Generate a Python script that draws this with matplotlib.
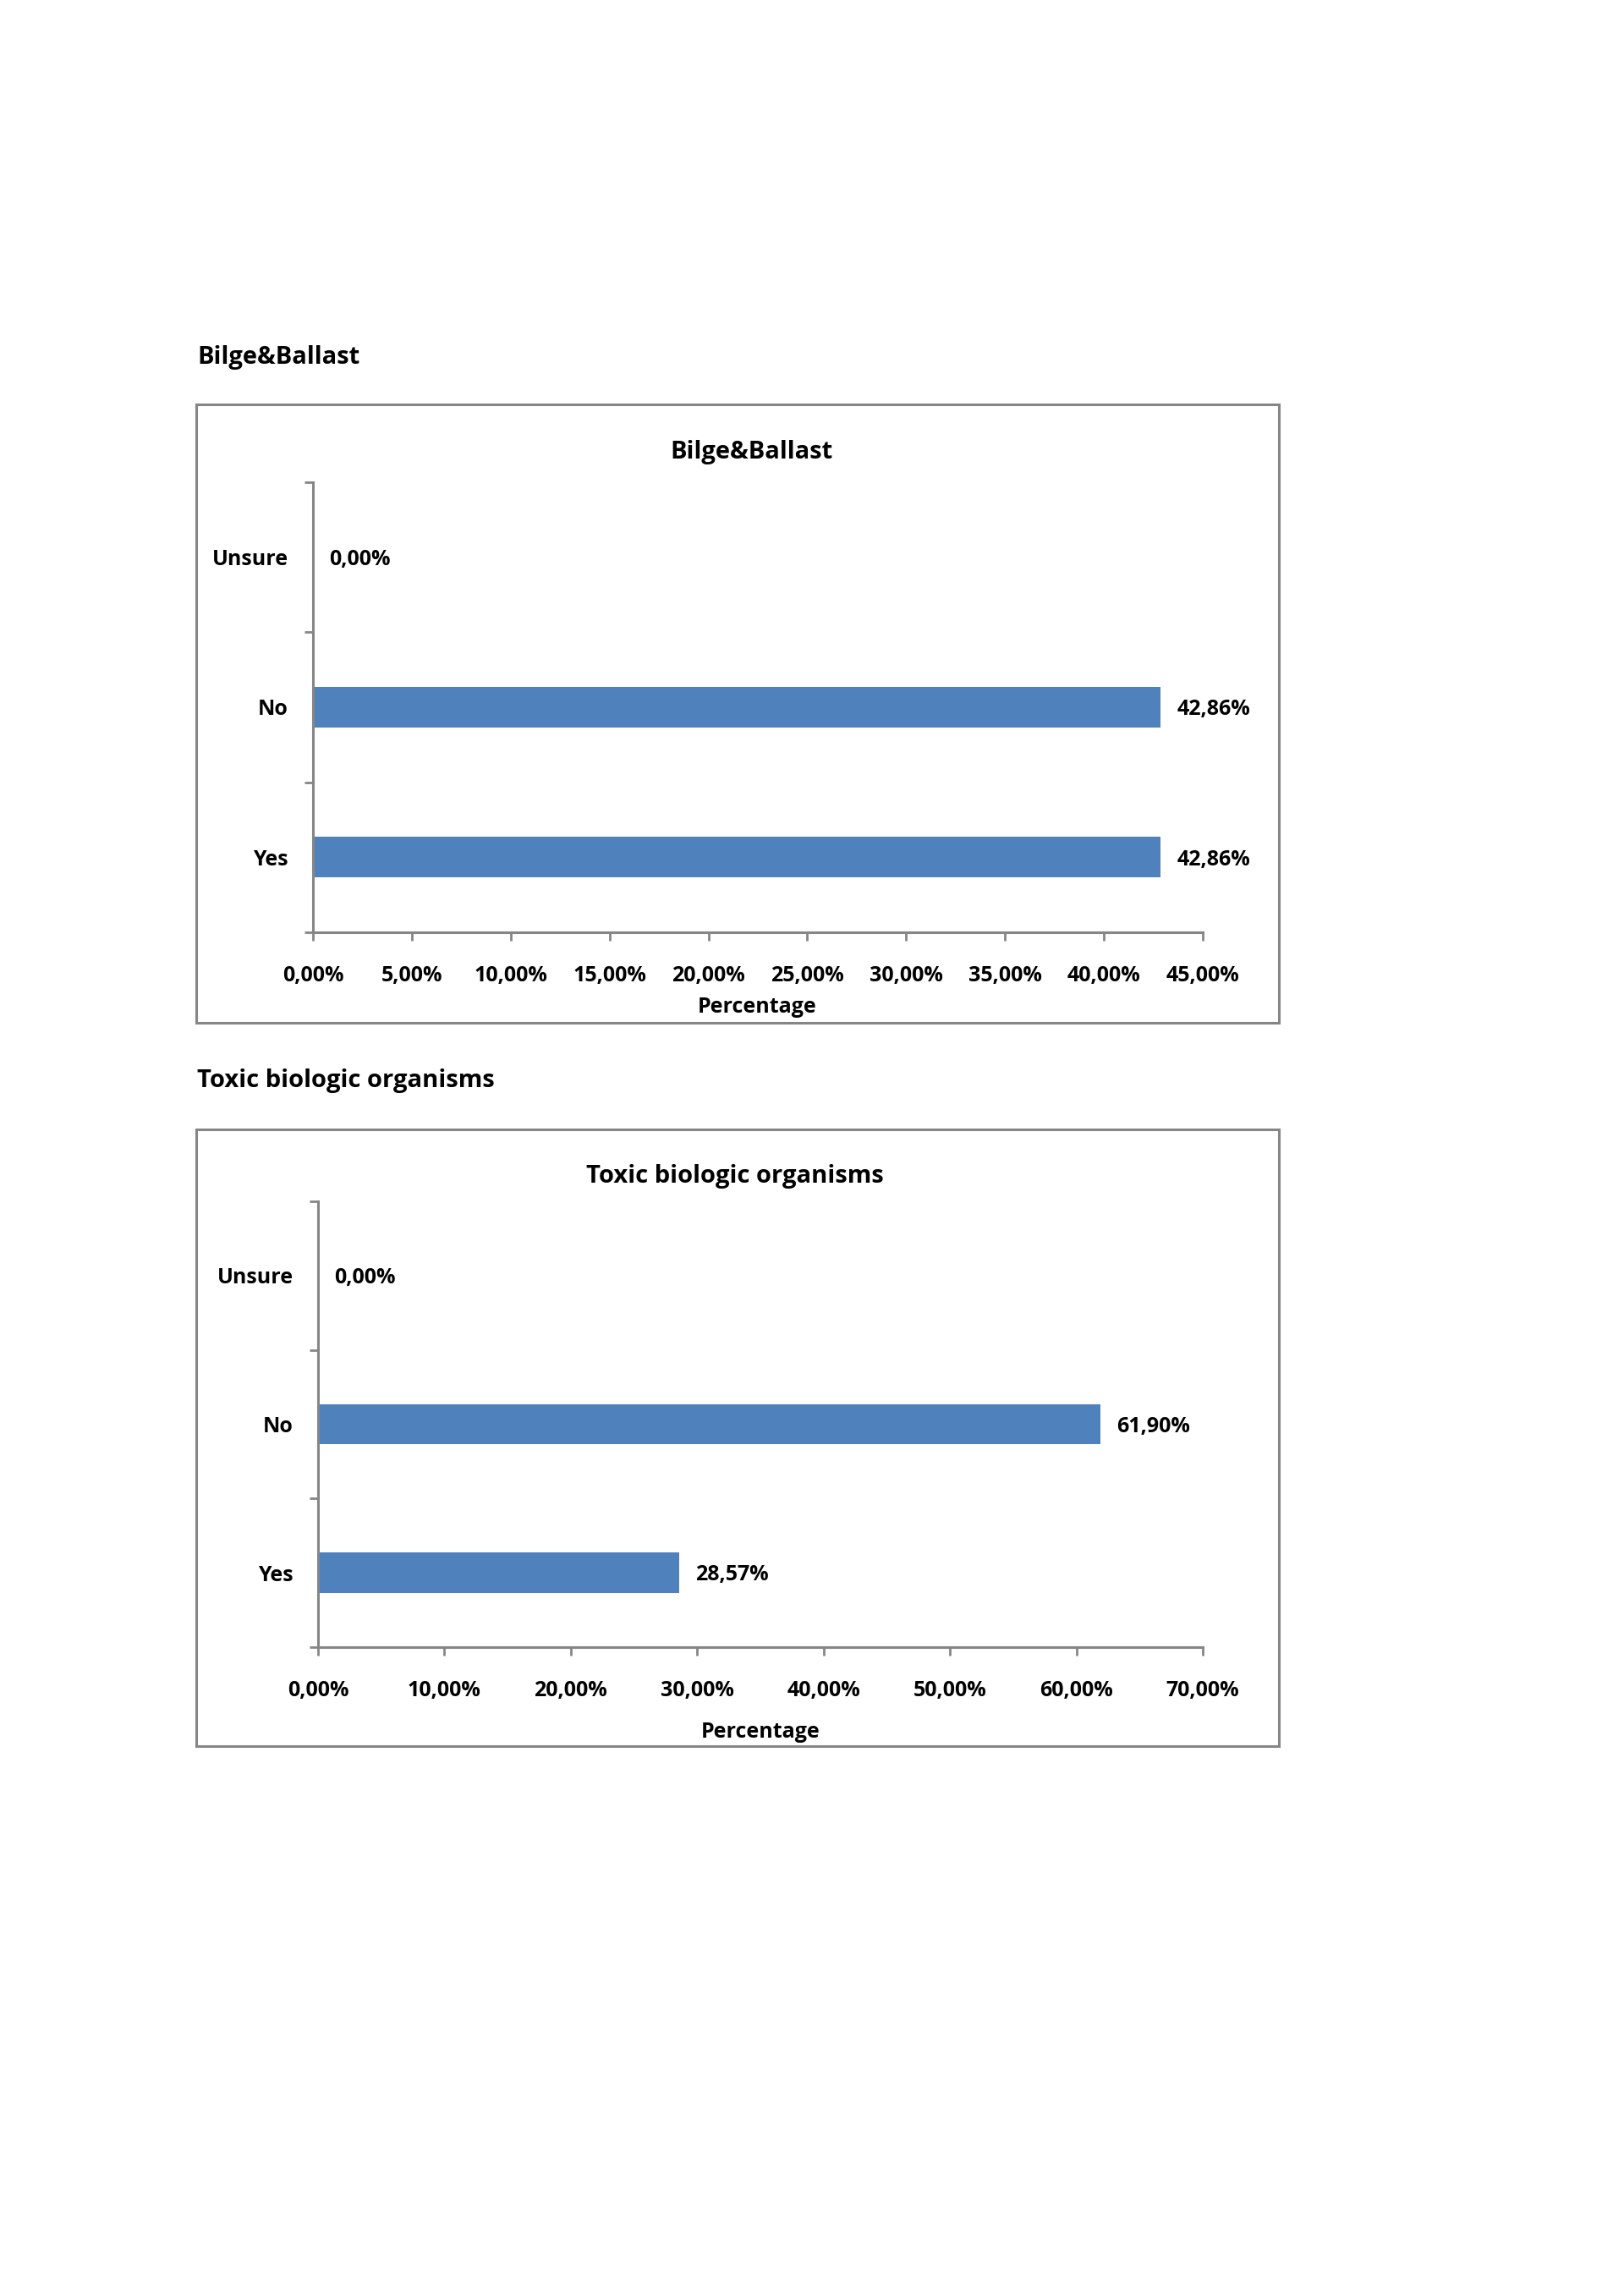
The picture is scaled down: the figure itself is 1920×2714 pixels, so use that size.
import numpy as np
import matplotlib
matplotlib.use('Agg')
import matplotlib.pyplot as plt
from matplotlib.patches import Rectangle

plt.rcParams['font.family'] = ['Open Sans', 'DejaVu Sans']
plt.rcParams['font.weight'] = 'bold'

categories = ['Yes', 'No', 'Unsure']
bilge_values = [42.86, 42.86, 0.00]
toxic_values = [28.57, 61.90, 0.00]
bilge_ticks = [0, 5, 10, 15, 20, 25, 30, 35, 40, 45]
toxic_ticks = [0, 10, 20, 30, 40, 50, 60, 70]

BAR = '#4F81BD'
AXC = '#868686'


def pct(v):
    return ('%.2f%%' % v).replace('.', ',')


def draw(fig, rect, box, title, heading, title_xy, xlabel_xy, values, ticks):
    # texts sit ~3px high with va='center', nudge down
    dy = 0.0011
    fig.text(0.1214, heading - dy, title, fontsize=21, ha='left', va='center')
    fig.patches.append(Rectangle((box[0], box[1]), box[2], box[3], transform=fig.transFigure,
                                 fill=False, edgecolor=AXC, linewidth=2.2))
    fig.text(title_xy[0], title_xy[1] - dy, title, fontsize=21, ha='center', va='center')
    fig.text(xlabel_xy[0], xlabel_xy[1] - dy, 'Percentage', fontsize=18, ha='center', va='center')

    ax = fig.add_axes(rect)
    y = np.arange(len(categories))
    ax.barh(y, values, height=0.27, color=BAR)
    for yi, v in zip(y, values):
        ax.annotate(pct(v), (v, yi), xytext=(14, -2), textcoords='offset points',
                    va='center', ha='left', fontsize=18)
    ax.set_xlim(ticks[0], ticks[-1])
    ax.set_ylim(-0.5, 2.5)
    ax.set_xticks(ticks)
    ax.set_xticklabels([pct(t) for t in ticks], fontsize=18)
    ax.set_yticks(y)
    ax.set_yticklabels(categories, fontsize=18)
    ax.set_yticks([-0.5, 0.5, 1.5, 2.5], minor=True)
    ax.tick_params(axis='y', which='major', length=0, pad=21)
    ax.tick_params(axis='y', which='minor', length=7, width=2, color=AXC)
    ax.tick_params(axis='x', length=7, width=2, color=AXC, pad=21)
    for s in ['top', 'right']:
        ax.spines[s].set_visible(False)
    for s in ['left', 'bottom']:
        ax.spines[s].set_color(AXC)
        ax.spines[s].set_linewidth(2.2)
    return ax


fig = plt.figure(figsize=(19.2, 27.14), dpi=100)
draw(fig, [0.19271, 0.59396, 0.54792, 0.19602], [0.12083, 0.55453, 0.66667, 0.26934],
     'Bilge&Ballast', 0.84525, (0.4630, 0.80398), (0.4661, 0.56227), bilge_values, bilge_ticks)
draw(fig, [0.19583, 0.28261, 0.54479, 0.19418], [0.12083, 0.23950, 0.66667, 0.26861],
     'Toxic biologic organisms', 0.53021, (0.4526, 0.48894), (0.4682, 0.24650), toxic_values, toxic_ticks)

fig.savefig('out.png', dpi=100)
